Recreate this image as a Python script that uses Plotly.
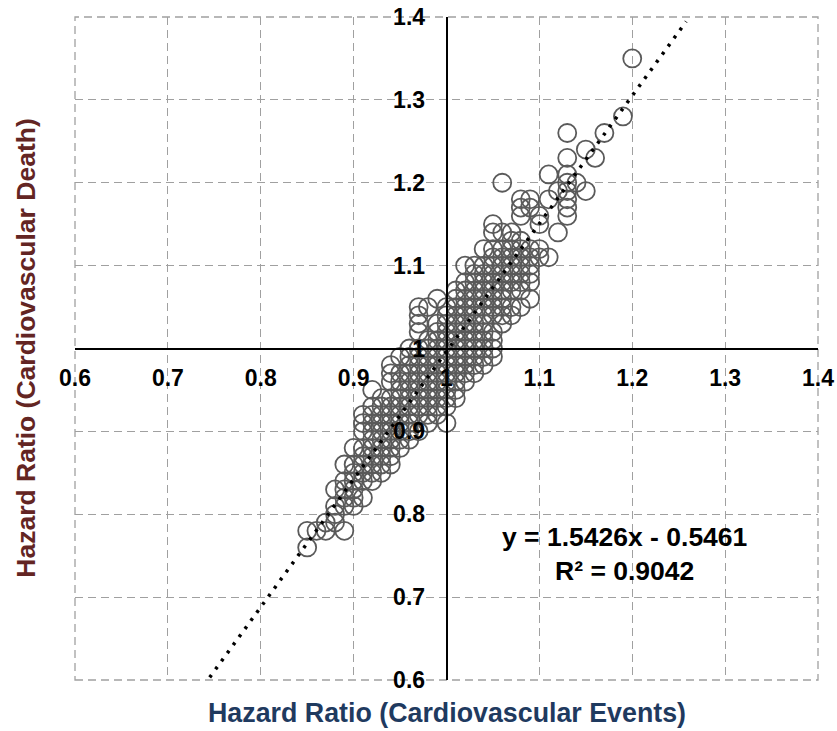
import plotly.graph_objects as go

# Hazard ratios, grouped by column of x (Cardiovascular Events)
hr_events = (
    [0.85] * 2 + [0.86] * 1 + [0.87] * 2 + [0.88] * 4 + [0.89] * 6 + [0.90] * 7 +
    [0.91] * 9 + [0.92] * 11 + [0.93] * 10 + [0.94] * 12 + [0.95] * 11 + [0.96] * 12 +
    [0.97] * 14 + [0.98] * 12 + [0.99] * 13 + [1.00] * 14 + [1.01] * 14 + [1.02] * 14 +
    [1.03] * 14 + [1.04] * 14 + [1.05] * 15 + [1.06] * 12 + [1.07] * 10 + [1.08] * 11 +
    [1.09] * 8 + [1.10] * 4 + [1.11] * 3 + [1.12] * 2 + [1.13] * 8 + [1.14] * 1 +
    [1.15] * 2 + [1.16] * 1 + [1.17] * 1 + [1.19] * 1 + [1.20] * 1
)

hr_death = [
    0.76, 0.78,
    0.78,
    0.78, 0.79,
    0.79, 0.80, 0.81, 0.83,
    0.78, 0.81, 0.82, 0.83, 0.84, 0.86,
    0.81, 0.82, 0.83, 0.84, 0.85, 0.86, 0.88,
    0.82, 0.84, 0.85, 0.86, 0.87, 0.88, 0.90, 0.91, 0.92,
    0.84, 0.85, 0.86, 0.87, 0.88, 0.89, 0.90, 0.91, 0.92, 0.93, 0.95,
    0.85, 0.86, 0.87, 0.88, 0.89, 0.90, 0.91, 0.92, 0.93, 0.94,
    0.86, 0.87, 0.88, 0.89, 0.90, 0.91, 0.92, 0.93, 0.94, 0.96, 0.97, 0.98,
    0.88, 0.89, 0.90, 0.91, 0.92, 0.93, 0.94, 0.95, 0.96, 0.97, 0.99,
    0.89, 0.90, 0.91, 0.92, 0.93, 0.94, 0.95, 0.96, 0.97, 0.98, 0.99, 1.00,
    0.90, 0.92, 0.93, 0.94, 0.95, 0.96, 0.97, 0.98, 0.99, 1.00, 1.02, 1.03, 1.04, 1.05,
    0.91, 0.92, 0.93, 0.94, 0.95, 0.96, 0.97, 0.98, 0.99, 1.00, 1.01, 1.05,
    0.92, 0.93, 0.94, 0.95, 0.96, 0.97, 0.98, 0.99, 1.00, 1.01, 1.02, 1.03, 1.06,
    0.91, 0.93, 0.94, 0.95, 0.96, 0.97, 0.98, 0.99, 1.00, 1.01, 1.02, 1.03, 1.04, 1.05,
    0.94, 0.95, 0.96, 0.97, 0.98, 0.99, 1.00, 1.01, 1.02, 1.03, 1.04, 1.05, 1.06, 1.07,
    0.96, 0.97, 0.98, 0.99, 1.00, 1.01, 1.02, 1.03, 1.04, 1.05, 1.06, 1.07, 1.08, 1.10,
    0.97, 0.98, 0.99, 1.00, 1.01, 1.02, 1.03, 1.04, 1.05, 1.06, 1.07, 1.08, 1.09, 1.10,
    0.98, 0.99, 1.00, 1.01, 1.02, 1.03, 1.04, 1.05, 1.06, 1.07, 1.08, 1.09, 1.10, 1.12,
    0.99, 1.00, 1.01, 1.02, 1.04, 1.05, 1.06, 1.07, 1.08, 1.09, 1.10, 1.11, 1.12, 1.14, 1.15,
    1.03, 1.04, 1.05, 1.06, 1.07, 1.08, 1.09, 1.10, 1.11, 1.12, 1.14, 1.20,
    1.04, 1.05, 1.07, 1.08, 1.09, 1.10, 1.11, 1.12, 1.13, 1.14,
    1.05, 1.07, 1.08, 1.09, 1.10, 1.11, 1.12, 1.13, 1.16, 1.17, 1.18,
    1.06, 1.08, 1.09, 1.10, 1.11, 1.12, 1.17, 1.18,
    1.11, 1.12, 1.15, 1.16,
    1.11, 1.18, 1.21,
    1.14, 1.19,
    1.16, 1.17, 1.18, 1.19, 1.20, 1.21, 1.23, 1.26,
    1.20,
    1.19, 1.24,
    1.23,
    1.26,
    1.28,
    1.35,
]

# Fitted trend line (as printed on the chart) and its drawn extent
trend_slope = 1.5426
trend_intercept = -0.5461
trend_r2 = 0.9042
trend_x = [0.745, 1.258]
trend_y = [trend_slope * v + trend_intercept for v in trend_x]

tick_vals = [0.6, 0.7, 0.8, 0.9, 1.0, 1.1, 1.2, 1.3, 1.4]
axis_range = [0.6, 1.4]

FONT = "Liberation Sans, Arial, sans-serif"
GRID = dict(color="#a0a0a0", width=1.3, dash="8px,5px")

fig = go.Figure()
fig.add_trace(go.Scatter(
    x=hr_events, y=hr_death, mode="markers",
    marker=dict(symbol="circle-open", size=18, color="#5a5a5a",
                line=dict(width=1.8, color="#5a5a5a")),
    showlegend=False, hoverinfo="x+y",
))
fig.add_trace(go.Scatter(
    x=trend_x, y=trend_y, mode="lines",
    line=dict(color="black", width=3.5, dash="3px,7px"),
    showlegend=False, hoverinfo="skip",
))

axis_common = dict(
    range=axis_range, tickvals=tick_vals, showgrid=True,
    gridcolor=GRID["color"], gridwidth=GRID["width"], griddash=GRID["dash"],
    showline=True, linecolor="black", linewidth=1.6,
    ticks="", zeroline=False, anchor="free", position=0.5,
    automargin=False,
    tickfont=dict(family=FONT, size=23, color="black", weight="bold"),
)

fig.update_layout(
    width=837, height=731,
    margin=dict(l=75, r=19, t=17, b=51),
    paper_bgcolor="white", plot_bgcolor="white",
    xaxis=dict(**axis_common, ticklabelstandoff=9),
    yaxis=dict(**axis_common, ticklabelstandoff=16),
    shapes=[
        # dashed gridlines on the plot-area edges (0.6 and 1.4 on both axes)
        dict(type="rect", xref="x domain", yref="y domain", x0=0, x1=1, y0=0, y1=1,
             line=GRID, layer="below"),
    ],
    annotations=[
        dict(text=f"<b>y = {trend_slope}x - {abs(trend_intercept)}<br>R² = {trend_r2}</b>",
             x=1.192, y=0.752, xref="x", yref="y", showarrow=False,
             font=dict(family=FONT, size=26.5, color="black"), align="center"),
        dict(text="<b>Hazard Ratio (Cardiovascular Events)</b>",
             x=0.5, y=-0.05, xref="paper", yref="paper", showarrow=False,
             xanchor="center", yanchor="middle",
             font=dict(family=FONT, size=26.8, color="#1f3a5f")),
        dict(text="<b>Hazard Ratio (Cardiovascular Death)</b>",
             x=-0.067, y=0.5, xref="paper", yref="paper", showarrow=False,
             xanchor="center", yanchor="middle", textangle=-90,
             font=dict(family=FONT, size=26.5, color="#632523")),
    ],
)

# remove the page's default body margin so the figure fills the window exactly
fig.write_html("out.html", config={"displayModeBar": False},
               post_script="document.body.style.margin='0px';")
